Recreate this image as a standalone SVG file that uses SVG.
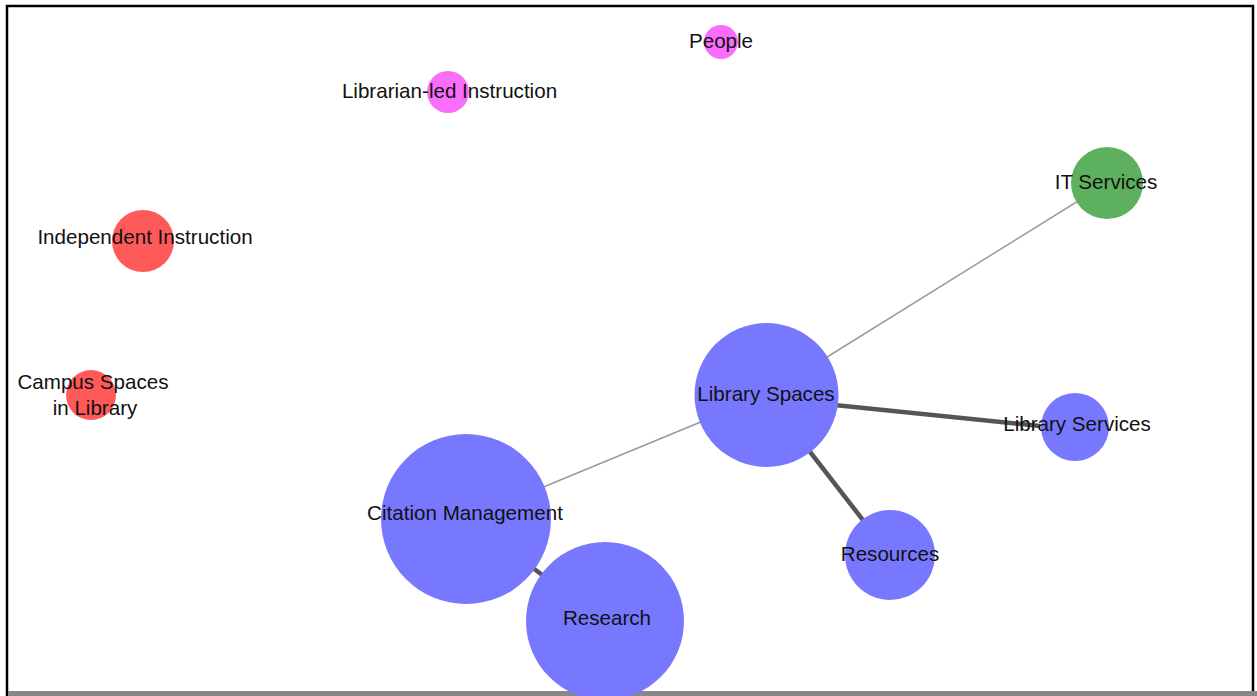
<svg xmlns="http://www.w3.org/2000/svg" width="1257" height="696" viewBox="0 0 1257 696">
<style>
.lbl{font-family:"Liberation Sans",Arial,sans-serif;font-size:20.6px;fill:#111;text-anchor:middle}
.blue{fill:#7878ff}
.red{fill:#ff5a5a}
.green{fill:#5db05d}
.pink{fill:#fa6cfa}
.thin{stroke:#9a9a9a;stroke-width:1.5;fill:none}
.thick{stroke:#555;stroke-width:4.5;fill:none}
</style>
<rect x="0" y="0" width="1257" height="696" fill="#fff"/>
<rect x="7" y="6" width="1246" height="692" fill="none" stroke="#000" stroke-width="2.5"/>
<rect x="8" y="691" width="1249" height="5" fill="#888"/>
<g id="connectors">
<line class="thin" x1="1107" y1="183" x2="766" y2="395"/>
<line class="thin" x1="766" y1="395" x2="466" y2="519"/>
<line class="thick" x1="766" y1="398" x2="1040" y2="426" stroke-width="4"/>
<line class="thick" x1="766" y1="395" x2="890" y2="555" stroke-width="5"/>
<line class="thick" x1="466" y1="519" x2="605" y2="621" stroke-width="4"/>
</g>
<g id="node-people"><circle class="pink" cx="721" cy="42" r="17"/><text class="lbl" x="721" y="48">People</text></g>
<g id="node-librarian-led"><circle class="pink" cx="448" cy="92" r="21"/><text class="lbl" x="449.5" y="98" fill="#222">Librarian-led Instruction</text></g>
<g id="node-it-services"><circle class="green" cx="1107" cy="183" r="36"/><text class="lbl" x="1106" y="189">IT Services</text></g>
<g id="node-independent"><circle class="red" cx="143" cy="241" r="31"/><text class="lbl" x="145" y="244">Independent Instruction</text></g>
<g id="node-campus"><circle class="red" cx="91" cy="395" r="25"/><text class="lbl" x="93" y="389">Campus Spaces</text><text class="lbl" x="95" y="415">in Library</text></g>
<g id="node-library-spaces"><circle class="blue" cx="766.5" cy="395" r="72"/><text class="lbl" x="766" y="401">Library Spaces</text></g>
<g id="node-library-services"><circle class="blue" cx="1075" cy="427" r="34"/><text class="lbl" x="1077" y="431">Library Services</text></g>
<g id="node-resources"><circle class="blue" cx="890" cy="555" r="45"/><text class="lbl" x="890" y="561">Resources</text></g>
<g id="node-citation"><circle class="blue" cx="466" cy="519" r="85"/><text class="lbl" x="465" y="520">Citation Management</text></g>
<g id="node-research"><circle class="blue" cx="605" cy="621" r="79"/><text class="lbl" x="607" y="625">Research</text></g>
</svg>
